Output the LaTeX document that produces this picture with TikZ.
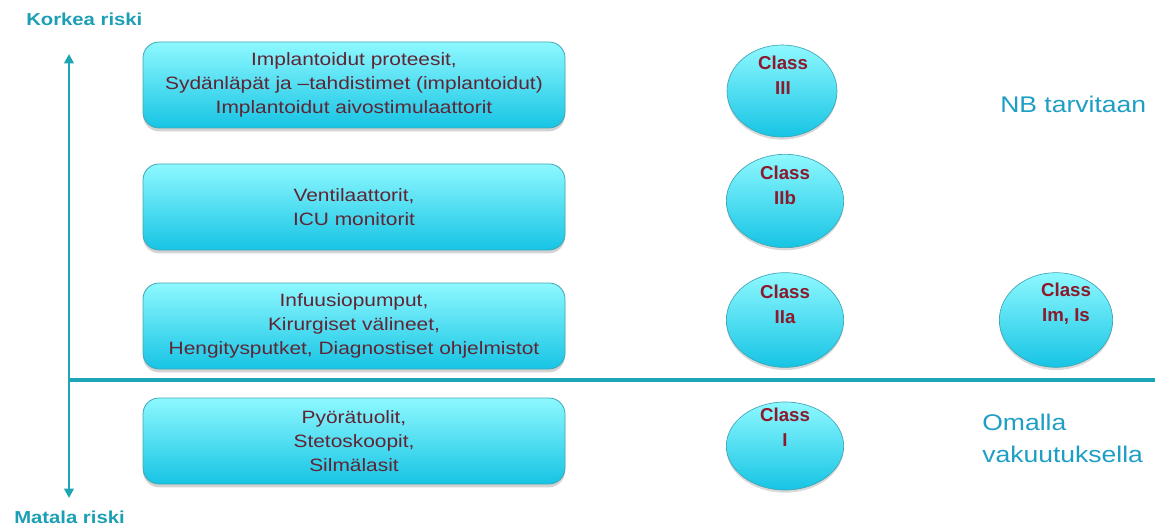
\documentclass[tikz,border=0pt]{standalone}
\usepackage{fontspec}
\setmainfont{Liberation Sans}
\newfontfamily\widefont[FakeStretch=1.17]{Liberation Sans}
\usetikzlibrary{shadows,arrows.meta,shapes.geometric}
\definecolor{teal1}{HTML}{1BA5B5}
\definecolor{lbl}{HTML}{1E9EC4}
\definecolor{axl}{HTML}{1C9FB4}
\definecolor{btop}{HTML}{8EF8FF}
\definecolor{bbot}{HTML}{16C4E4}
\definecolor{bord}{HTML}{3FA6B6}
\definecolor{txt}{HTML}{5E2534}
\definecolor{ctxt}{HTML}{8A1A2C}
\tikzset{
  catbox/.style={rounded corners=12pt, draw=bord, line width=0.6pt, top color=btop, bottom color=bbot,
    minimum width=316.5pt, minimum height=64.5pt, align=center, text=txt,
    font=\widefont\fontsize{13.4pt}{18.2pt}\selectfont,
    drop shadow={shadow xshift=0pt, shadow yshift=-2.5pt, opacity=0.35}},
  classell/.style={ellipse, draw=bord, line width=0.5pt, top color=btop, bottom color=bbot, inner sep=0pt,
    drop shadow={shadow xshift=0pt, shadow yshift=-2pt, opacity=0.3}},
  classtxt/.style={align=center, text=ctxt, font=\bfseries\fontsize{14pt}{18.8pt}\selectfont},
  axislbl/.style={text=axl, font=\widefont\bfseries\fontsize{13pt}{15pt}\selectfont},
  zonelbl/.style={text=lbl, font=\widefont\fontsize{17pt}{24pt}\selectfont, align=left},
}
\begin{document}
\begin{tikzpicture}[x=0.75pt,y=-0.75pt]
\useasboundingbox (0,0) rectangle (1166,531);
% boxes
\node[catbox] (b1) at (354,85) {Implantoidut proteesit,\\Sydänläpät ja –tahdistimet (implantoidut)\\Implantoidut aivostimulaattorit};
\node[catbox] (b2) at (354,207) {Ventilaattorit,\\ICU monitorit};
\node[catbox] (b3) at (354,326) {Infuusiopumput,\\Kirurgiset välineet,\\Hengitysputket, Diagnostiset ohjelmistot};
\node[catbox] (b4) at (354,441) {Pyörätuolit,\\Stetoskoopit,\\Silmälasit};
% ellipses
\node[classell, minimum width=82.5pt, minimum height=69pt] (e3) at (782,91) {};
\node[classell, minimum width=88pt, minimum height=70pt] (e2b) at (785,201) {};
\node[classell, minimum width=88pt, minimum height=71pt] (e2a) at (785,320) {};
\node[classell, minimum width=85pt, minimum height=71pt] (em) at (1056,320) {};
\node[classell, minimum width=88pt, minimum height=66pt] (e1) at (785,446) {};
\node[classtxt] (t3) at (783,75) {Class\\III};
\node[classtxt] (t2b) at (785,185) {Class\\IIb};
\node[classtxt] (t2a) at (785,304) {Class\\IIa};
\node[classtxt] (tm) at (1066,304) {Class\\Im, Is};
\node[classtxt] (t1) at (785,427) {Class\\I};
% axis
\coordinate (top) at (69,54);
\coordinate (bot) at (69,498);
\coordinate (hl) at (69,380);
\coordinate (hr) at (1155,380);
\draw[teal1, line width=2.2pt, {Triangle[length=7pt,width=7pt]}-{Triangle[length=7pt,width=7pt]}] (top) -- (bot);
\draw[teal1, line width=2.6pt] (hl) -- (hr);
% labels
\node[axislbl, anchor=west, inner sep=0pt] (kr) at (26,19) {Korkea riski};
\node[axislbl, anchor=west, inner sep=0pt] (mr) at (14,517) {Matala riski};
\node[zonelbl, anchor=west, inner sep=0pt] (nb) at (1000,104) {NB tarvitaan};
\node[zonelbl, anchor=west, inner sep=0pt] (om) at (982,438) {Omalla\\vakuutuksella};
\end{tikzpicture}
\end{document}
